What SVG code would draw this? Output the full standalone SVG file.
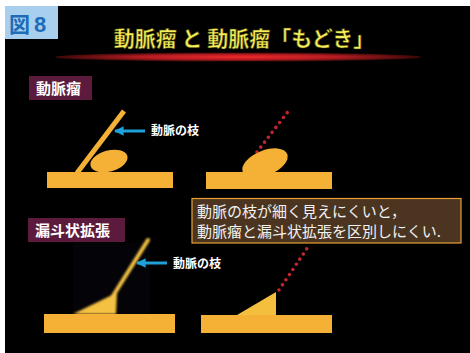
<svg xmlns="http://www.w3.org/2000/svg" width="470" height="353" viewBox="0 0 470 353">
  <defs>
    <radialGradient id="glow" cx="0.5" cy="0.5" r="0.5">
      <stop offset="0" stop-color="#f02a2a"/>
      <stop offset="0.55" stop-color="#b51c22"/>
      <stop offset="1" stop-color="#3a0808"/>
    </radialGradient>
    <marker id="arrow" viewBox="0 0 10 10" refX="9" refY="5" markerWidth="3.2" markerHeight="3.2" orient="auto">
      <path d="M0,0 L10,5 L0,10 z" fill="#1ea0d8"/>
    </marker>
    <filter id="soft" x="-20%" y="-20%" width="140%" height="140%">
      <feGaussianBlur stdDeviation="0.8"/>
    </filter>
    <style>
      .jp { font-family: "Noto Sans CJK JP", "Noto Sans", sans-serif; }
      .tag { fill: #5c1b3c; }
      .tagtxt { fill: #ffffff; font-size: 15px; font-weight: bold; }
      .bar { fill: #f4b136; }
      .vessel { stroke: #f4b136; stroke-width: 5; fill: none; }
      .dots { stroke: #c4262e; stroke-width: 3.6; stroke-linecap: round; stroke-dasharray: 0 6.2; fill: none; }
      .pointer { stroke: #1ea0d8; stroke-width: 3; fill: none; marker-end: url(#arrow); }
      .note { fill: #ffffff; font-size: 12px; font-weight: bold; }
    </style>
  </defs>

  <!-- page -->
  <rect x="0" y="0" width="470" height="353" fill="#ffffff"/>
  <rect x="5" y="6" width="465" height="347" fill="#000000"/>

  <!-- figure number -->
  <g id="fig-label">
    <rect x="5" y="6" width="53" height="33" fill="#a9cfee"/>
    <text x="9" y="32" class="jp" font-size="21" font-weight="bold" fill="#1c6cb8">図</text>
    <text x="34" y="32" font-family="Liberation Sans, sans-serif" font-size="22" font-weight="bold" fill="#1c6cb8">8</text>
  </g>

  <!-- title -->
  <g id="title">
    <ellipse cx="238" cy="57" rx="183" ry="4.5" fill="url(#glow)"/>
    <text x="244" y="46" class="jp" text-anchor="middle" font-size="21" font-weight="bold" fill="#f5ee5a" stroke="#3a3400" stroke-width="0.5">動脈瘤 と 動脈瘤「もどき」</text>
  </g>

  <!-- section tags -->
  <g id="tag-aneurysm">
    <rect x="29" y="76" width="63" height="24" class="tag"/>
    <text x="36" y="94" class="jp tagtxt">動脈瘤</text>
  </g>
  <g id="tag-funnel">
    <rect x="28" y="218" width="97" height="24" class="tag"/>
    <text x="35" y="236" class="jp tagtxt">漏斗状拡張</text>
  </g>

  <!-- aneurysm with visible branch -->
  <g id="aneurysm">
    <line x1="77" y1="173" x2="124" y2="111" class="vessel"/>
    <ellipse cx="109" cy="161" rx="19" ry="10.5" transform="rotate(-15 109 161)" class="bar"/>
    <rect x="47" y="172" width="126" height="16" class="bar"/>
  </g>

  <!-- aneurysm, branch not visible -->
  <g id="aneurysm-hidden-branch">
    <line x1="257" y1="152" x2="290" y2="109" class="dots"/>
    <ellipse cx="265" cy="163" rx="24" ry="12.5" transform="rotate(-22 265 163)" class="bar"/>
    <rect x="206" y="172" width="126" height="17" class="bar"/>
  </g>

  <!-- funnel-shaped dilation with branch -->
  <g id="funnel">
    <rect x="73" y="243" width="77" height="71" fill="#030308"/>
    <g filter="url(#soft)">
      <line x1="113" y1="296" x2="148" y2="240" stroke="#f5c143" stroke-width="4" stroke-linecap="round"/>
      <polygon points="73,314 110,296 117,292 116,314" fill="#f5c143"/>
    </g>
    <rect x="44" y="314" width="131" height="19" class="bar"/>
  </g>

  <!-- funnel-shaped dilation, branch not visible -->
  <g id="funnel-hidden-branch">
    <line x1="279" y1="290" x2="310" y2="244" class="dots"/>
    <polygon points="237,315 276,292 276,315" fill="#f5bf3e"/>
    <rect x="201" y="315" width="131" height="18" class="bar"/>
  </g>

  <!-- remark -->
  <g id="remark">
    <rect x="192" y="198.5" width="269" height="44.5" fill="#4b3521" stroke="#e8a033" stroke-width="1.2"/>
    <text x="197" y="217" class="jp" font-size="15" fill="#f2f2f2">動脈の枝が細く見えにくいと，</text>
    <text x="197" y="237" class="jp" font-size="15" fill="#f2f2f2">動脈瘤と漏斗状拡張を区別しにくい.</text>
  </g>

  <!-- branch pointers -->
  <g id="connectors">
    <line x1="145" y1="131" x2="115" y2="131" class="pointer"/>
    <line x1="167" y1="263" x2="137" y2="263" class="pointer"/>
  </g>
  <g id="branch-labels">
    <text x="151" y="135" class="jp note">動脈の枝</text>
    <text x="173" y="268" class="jp note">動脈の枝</text>
  </g>
</svg>
